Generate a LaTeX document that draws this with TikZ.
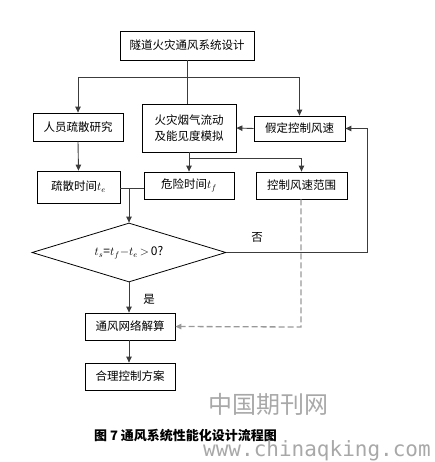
\documentclass[tikz,border=0pt]{standalone}
\usepackage{fontspec}
\setmainfont{Noto Sans CJK SC}
\newfontfamily\markfont{DejaVu Sans Mono}
\usetikzlibrary{shapes.geometric,arrows.meta}
\definecolor{flowline}{HTML}{3C3C3C}
\definecolor{markgray}{HTML}{A8A8A8}
\tikzset{
  box/.style={draw=black,line width=0.8pt,minimum width=90pt,minimum height=27pt,
    inner sep=2pt,font=\fontsize{11.5}{15.5}\selectfont},
  decision/.style={diamond,draw=black,line width=0.8pt,shape aspect=3.3,
    minimum width=194pt,minimum height=59pt,inner sep=0pt,font=\fontsize{12}{14}\selectfont},
  link/.style={draw=flowline,line width=0.9pt},
  arrow/.style={link,-{Triangle[length=6pt,width=5.5pt]}},
  range link/.style={draw=gray!80,line width=1.3pt,dash pattern=on 6pt off 3pt,
    -{Triangle[length=6pt,width=5.5pt]}},
  tag/.style={font=\fontsize{11.5}{14}\selectfont}
}

\begin{document}
\begin{tikzpicture}[x=1pt,y=-1pt]
  \useasboundingbox (0,0) rectangle (434,462);
  % boxes
  \node[box,minimum width=134pt,minimum height=29pt] (design) at (187,45.5) {隧道火灾通风系统设计};
  \node[box,minimum height=28pt] (evac) at (78,127) {人员疏散研究};
  \node[box,minimum width=94pt,minimum height=48pt,align=left] (smoke) at (189,128) {火灾烟气流动\\及能见度模拟};
  \node[box,minimum width=91pt,minimum height=25pt] (speed) at (299.5,128.5) {假定控制风速};
  \node[box,minimum width=83pt,minimum height=32pt] (tevac) at (78.5,187) {疏散时间$t_e$};
  \node[box] (tdanger) at (189,185.5) {危险时间$t_f$};
  \node[box,minimum width=91pt] (range) at (301.5,185.5) {控制风速范围};
  \node[decision] (check) at (129,252.5) {$t_s$=$t_f$$-$$t_e$\,$>$\,0?};
  \node[box] (solve) at (130,326.5) {通风网络解算};
  \node[box] (plan) at (130,376.5) {合理控制方案};
  % junctions
  \coordinate (split) at (187,77);
  \coordinate (fork) at (189,158);
  \coordinate (merge) at (129,188);
  \coordinate (back) at (367,252.5);
  \coordinate (bend) at (301,327);
  % connectors
  \draw[link] (design.south) -- (design.south |- smoke.north);
  \draw[arrow] (split) -| (evac.north);
  \draw[arrow] (split) -| (speed.north);
  \draw[arrow] (speed.west) -- (smoke.east);
  \draw[arrow] (evac.south) -- (tevac.north);
  \draw[link] (smoke.south) -- (fork);
  \draw[arrow] (fork) -| (range.north);
  \draw[arrow] (fork) -- (tdanger.north);
  \draw[link] (tevac.east |- merge) -- (tdanger.west |- merge);
  \draw[arrow] (merge) -- (check.north);
  \draw[arrow] (check.east) -- (back) |- (speed.east);
  \draw[arrow] (check.south) -- (check.south |- solve.north);
  \draw[range link] (range.south -| bend) -- (bend) -- (solve.east);
  \draw[arrow] (solve.south -| check.south) -- (plan.north -| check.south);
  % labels
  \node[tag] (no) at (257,237) {否};
  \node[tag] (yes) at (149,299) {是};
  \node[font=\fontsize{24}{26}\selectfont,text=markgray] (mark) at (268,404) {中国期刊网};
  \node[font=\bfseries\fontsize{13}{15}\selectfont] (caption) at (185.5,436) {图 7 通风系统性能化设计流程图};
  \node[font=\markfont\fontsize{21}{22}\selectfont,text=markgray,anchor=west,inner sep=0pt] (site) at (203,451) {www.chinaqking.com};
\end{tikzpicture}
\end{document}
